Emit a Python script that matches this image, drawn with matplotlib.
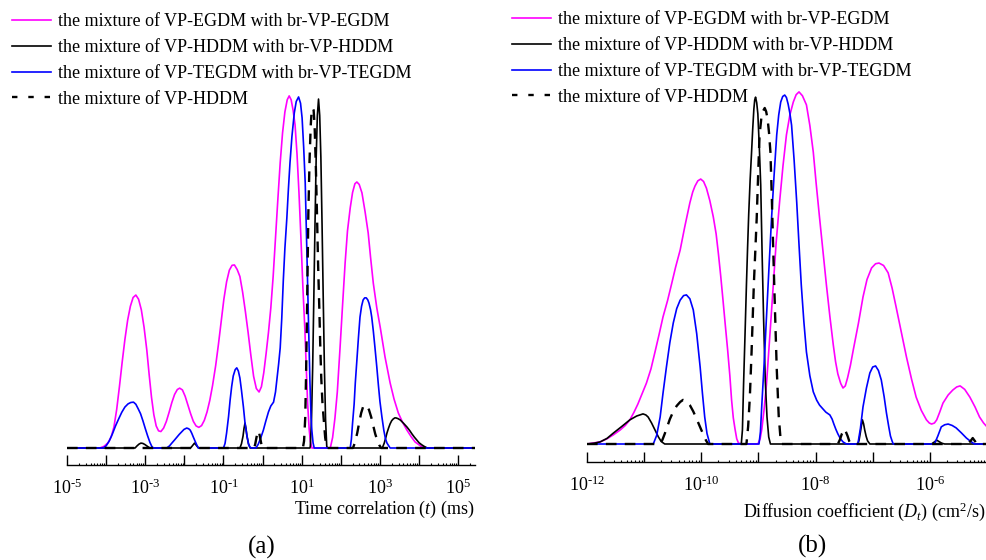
import numpy as np
import matplotlib.pyplot as plt
from matplotlib.lines import Line2D
from matplotlib.ticker import FixedLocator, FuncFormatter, NullFormatter

plt.rcParams['font.family'] = ['Liberation Serif', 'DejaVu Serif']
plt.rcParams['mathtext.fontset'] = 'custom'
plt.rcParams['mathtext.rm'] = 'Liberation Serif'
plt.rcParams['mathtext.it'] = 'Liberation Serif:italic'
plt.rcParams['mathtext.default'] = 'regular'

labels = ['the mixture of VP-EGDM with br-VP-EGDM',
          'the mixture of VP-HDDM with br-VP-HDDM',
          'the mixture of VP-TEGDM with br-VP-TEGDM',
          'the mixture of VP-HDDM']

# (a) time correlation: x as log10(t / ms), y as intensity (a.u.)
a_egdm_lx = [-5.00, -4.16, -4.05, -3.95, -3.87, -3.80, -3.73, -3.66, -3.59, -3.52, -3.45, -3.38, -3.31,
             -3.24, -3.17, -3.10, -3.03, -2.96, -2.90, -2.84, -2.78, -2.72, -2.66, -2.60, -2.53, -2.46,
             -2.39, -2.32, -2.25, -2.18, -2.12, -2.05, -1.98, -1.91, -1.84, -1.77, -1.70, -1.63, -1.56,
             -1.49, -1.42, -1.35, -1.28, -1.20, -1.13, -1.06, -0.99, -0.92, -0.85, -0.78, -0.72, -0.65,
             -0.58, -0.51, -0.44, -0.37, -0.30, -0.23, -0.16, -0.09, -0.03, 0.03, 0.09, 0.15, 0.21,
             0.27, 0.33, 0.39, 0.45, 0.51, 0.57, 0.63, 0.68, 0.73, 0.78, 0.83, 0.88, 0.93, 0.98, 1.03,
             1.08, 1.12, 1.15, 1.19, 1.22, 1.26, 1.73, 1.79, 1.85, 1.91, 1.98, 2.04, 2.11, 2.17, 2.24,
             2.30, 2.36, 2.41, 2.47, 2.54, 2.62, 2.70, 2.76, 2.83, 2.92, 3.01, 3.13, 3.26, 3.36, 3.47,
             3.58, 3.69, 3.80, 3.90, 4.05, 4.21, 5.43]
a_egdm_y = [0, 0, 0.5, 1.5, 3.2, 6.0, 11.0, 17.5, 24.5, 31.0, 36.5, 40.5, 43.0,
            43.7, 42.5, 39.5, 34.5, 28.0, 21.0, 14.5, 9.5, 6.3, 4.9, 4.7, 5.7, 7.6,
            10.2, 13.0, 15.3, 16.7, 17.1, 16.6, 14.8, 12.3, 9.8, 7.6, 6.3, 5.9, 6.4,
            7.9, 10.3, 13.6, 17.8, 23.5, 29.5, 36.0, 42.5, 47.5, 50.8, 52.2, 52.3, 51.0,
            49.0, 44.5, 39.0, 33.0, 26.5, 20.5, 17.0, 16.0, 17.5, 21.5, 27.0, 33.0, 40.0,
            49.0, 60.0, 71.0, 81.5, 90.0, 96.0, 99.5, 100.6, 99.5, 96.5, 92.3, 84.0, 73.0, 60.0, 46.0,
            34.0, 22.0, 13.0, 5.5, 2.0, 0, 0, 3.0, 8.6, 16.0, 28.6, 40.0, 52.9, 62.0, 68.6,
            73.0, 75.5, 76.0, 75.3, 72.9, 67.5, 61.4, 54.5, 47.1, 40.0, 34.3, 26.0, 18.6, 14.0, 10.0,
            7.3, 5.1, 3.2, 1.7, 0.5, 0, 0]

a_hddm_lx = [-5.00, -3.26, -3.21, -3.16, -3.11, -3.06, -3.01, -2.96, -2.91, -2.88, -1.84, -1.79, -1.74,
             -1.69, -1.64, -0.58, -0.54, -0.50, -0.475, -0.45, -0.425, -0.40, -0.36, -0.32, 1.21, 1.22,
             1.25, 1.28, 1.31, 1.34, 1.37, 1.40, 1.43, 1.46, 1.49, 1.52, 1.55, 1.58, 1.61, 1.64, 1.66,
             3.06, 3.11, 3.15, 3.18, 3.22, 3.26, 3.30, 3.34, 3.38, 3.41, 3.46, 3.52, 3.60, 3.69, 3.76,
             3.82, 3.88, 3.94, 4.00, 4.07, 4.14, 4.21, 5.43]
a_hddm_y = [0, 0, 0.6, 1.1, 1.4, 1.3, 1.0, 0.6, 0.2, 0, 0, 0.7, 1.4,
            0.7, 0, 0, 1.2, 3.4, 5.6, 7.1, 5.6, 3.4, 1.2, 0, 0, 0.5,
            8.0, 23.0, 43.0, 64.0, 83.0, 95.0, 99.7, 95.0, 83.0, 64.0, 43.0, 23.0, 8.0, 0.5, 0,
            0, 1.4, 3.0, 4.3, 5.7, 6.9, 7.8, 8.3, 8.6, 8.6, 8.4, 8.0, 7.1, 6.0, 5.0,
            4.0, 3.1, 2.3, 1.5, 0.9, 0.4, 0, 0]

a_tegdm_lx = [-5.00, -4.08, -4.00, -3.92, -3.84, -3.76, -3.68, -3.60, -3.52, -3.44, -3.37, -3.30, -3.24,
              -3.18, -3.12, -3.06, -3.00, -2.94, -2.88, -2.83, -2.79, -2.45, -2.38, -2.32, -2.25, -2.19,
              -2.13, -2.07, -2.01, -1.94, -1.89, -1.85, -1.81, -1.77, -1.72, -1.68, -1.64, -1.00, -0.96,
              -0.92, -0.87, -0.83, -0.79, -0.75, -0.70, -0.66, -0.62, -0.58, -0.54, -0.49, -0.45, -0.40,
              -0.36, -0.32, -0.28, -0.17, -0.11, -0.05, 0.02, 0.08, 0.15, 0.21, 0.28, 0.33, 0.37, 0.41,
              0.45, 0.49, 0.53, 0.57, 0.62, 0.66, 0.70, 0.75, 0.81, 0.86, 0.92, 0.97, 1.01, 1.05, 1.09,
              1.13, 1.17, 1.21, 1.24, 1.26, 1.29, 1.32, 2.24, 2.27, 2.30, 2.34, 2.37, 2.41, 2.45, 2.49,
              2.53, 2.57, 2.61, 2.65, 2.69, 2.72, 2.76, 2.79, 2.83, 2.87, 2.92, 2.96, 3.00, 3.05, 3.10,
              3.14, 3.18, 3.26, 5.43]
a_tegdm_y = [0, 0, 0.6, 2.0, 4.0, 6.3, 8.3, 10.2, 11.7, 12.6, 13.0, 13.1, 12.5,
             11.2, 9.8, 7.8, 5.6, 3.5, 1.6, 0.4, 0, 0, 0.6, 1.4, 2.3, 3.1,
             3.9, 4.6, 5.3, 5.7, 5.5, 5.1, 4.2, 3.1, 1.8, 0.8, 0, 0, 1.3,
             4.3, 9.0, 13.7, 17.6, 20.6, 22.4, 22.9, 22.0, 20.0, 16.5, 11.7, 7.2, 3.5,
             1.1, 0.2, 0, 0, 1.1, 2.8, 5.1, 7.6, 10.3, 12.0, 13.1, 16.0, 20.0, 24.0,
             28.6, 37.0, 48.0, 57.0, 65.7, 74.0, 81.4, 89.0, 95.7, 99.0, 100.3, 98.5, 94.3, 86.0, 75.7,
             57.0, 37.7, 19.0, 8.5, 4.9, 1.5, 0, 0, 2.5, 7.1, 12.5, 18.6, 25.0, 31.5, 37.4,
             40.5, 42.3, 42.9, 42.9, 42.3, 41.4, 39.5, 37.4, 33.5, 29.0, 23.1, 18.0, 13.3, 8.9, 5.0,
             2.7, 1.4, 0, 0]

a_hddm_only_lx = [-5.00, -0.22, -0.19, -0.16, -0.135, -0.11, -0.085, -0.06, -0.03, 0.00, 1.03, 1.06,
                  1.09, 1.11, 1.13, 1.15, 1.17, 1.20, 1.23, 1.255, 1.28, 1.305, 1.33, 1.36, 1.39, 1.42,
                  1.45, 1.475, 1.50, 1.53, 1.56, 1.60, 1.64, 2.31, 2.36, 2.42, 2.47, 2.52, 2.57, 2.62,
                  2.67, 2.72, 2.78, 2.83, 2.88, 2.93, 2.98, 3.03, 5.43]
a_hddm_only_y = [0, 0, 1.0, 2.8, 4.2, 4.9, 4.2, 2.8, 1.0, 0, 0, 2.0,
                 8.6, 20.0, 34.3, 51.0, 67.1, 82.0, 92.0, 96.5, 97.1, 96.5, 92.0, 81.0, 67.1, 52.0,
                 40.0, 29.0, 20.0, 13.0, 8.6, 3.0, 0, 0, 1.5, 4.3, 7.3, 10.0, 11.8, 12.3,
                 11.9, 10.9, 8.7, 6.3, 4.0, 2.3, 0.9, 0, 0]

# (b) diffusion coefficient: x as log10(D / cm2 s-1)
b_egdm_lx = [-12.00, -11.77, -11.65, -11.54, -11.42, -11.33, -11.25, -11.18, -11.11, -11.04, -10.96,
             -10.88, -10.81, -10.74, -10.67, -10.59, -10.52, -10.45, -10.37, -10.29, -10.20, -10.15,
             -10.11, -10.06, -10.01, -9.96, -9.91, -9.85, -9.79, -9.74, -9.70, -9.66, -9.62, -9.58,
             -9.54, -9.50, -9.47, -9.44, -9.41, -9.38, -9.35, -9.30, -9.01, -8.97, -8.94, -8.90, -8.86,
             -8.80, -8.74, -8.69, -8.63, -8.57, -8.51, -8.45, -8.39, -8.34, -8.29, -8.23, -8.16, -8.10,
             -8.04, -7.99, -7.93, -7.87, -7.81, -7.75, -7.69, -7.65, -7.61, -7.56, -7.52, -7.48, -7.44,
             -7.39, -7.34, -7.25, -7.17, -7.10, -7.02, -6.95, -6.89, -6.81, -6.73, -6.66, -6.59, -6.50,
             -6.41, -6.32, -6.24, -6.15, -6.06, -6.01, -5.97, -5.92, -5.88, -5.83, -5.77, -5.68, -5.60,
             -5.53, -5.47, -5.39, -5.30, -5.21, -5.13, -5.06, -5.00]
b_egdm_y = [0, 0.6, 1.5, 2.6, 4.0, 5.3, 6.9, 9.0, 11.4, 14.2, 17.4,
            21.5, 26.3, 31.2, 36.3, 41.0, 45.7, 50.5, 55.4, 62.0, 68.9, 72.0,
            73.7, 75.2, 75.7, 75.0, 73.1, 69.5, 64.9, 60.0, 54.3, 48.0, 41.1, 34.0,
            27.1, 19.5, 12.6, 7.5, 4.3, 1.5, 0.3, 0, 0, 1.5, 4.3, 10.0, 16.9,
            31.0, 45.4, 57.5, 69.1, 79.5, 88.3, 94.0, 97.7, 99.8, 100.6, 99.5, 96.9, 91.0,
            83.4, 74.5, 64.6, 55.0, 45.4, 36.5, 28.3, 23.5, 20.0, 17.3, 16.0, 16.6, 18.9,
            22.5, 26.9, 34.5, 42.0, 47.0, 50.3, 51.5, 51.7, 51.0, 48.9, 44.5, 39.1, 32.0,
            24.9, 18.5, 13.4, 9.6, 6.9, 6.0, 5.7, 6.0, 6.9, 9.0, 11.7, 14.0, 15.4,
            16.3, 16.6, 15.6, 13.4, 10.6, 7.7, 6.0, 4.9]

b_hddm_lx = [-12.00, -11.88, -11.77, -11.65, -11.54, -11.40, -11.25, -11.13, -11.02, -10.97, -10.93,
             -10.87, -10.81, -10.75, -10.70, -10.64, -9.30, -9.28, -9.26, -9.235, -9.21, -9.19, -9.17,
             -9.145, -9.12, -9.10, -9.08, -9.065, -9.05, -9.03, -9.01, -8.985, -8.96, -8.935, -8.91,
             -8.88, -8.85, -8.82, -8.79, -7.26, -7.24, -7.22, -7.20, -7.18, -7.16, -7.14, -7.115, -7.09,
             -7.05, -5.97, -5.92, -5.88, -5.83, -5.79, -5.74, -5.00]
b_hddm_y = [0, 0.2, 0.6, 1.6, 3.1, 4.9, 6.9, 8.0, 8.6, 8.3, 7.7,
            6.0, 4.0, 2.0, 0.7, 0, 0, 4.0, 17.1, 31.0, 45.4, 56.0, 65.7,
            75.5, 83.4, 90.0, 95.7, 98.3, 99.1, 97.5, 94.3, 85.0, 74.0, 54.0, 36.0,
            18.0, 7.7, 2.0, 0, 0, 1.0, 2.9, 5.0, 6.9, 5.8, 4.0, 2.2, 0.9,
            0, 0, 0.6, 1.1, 0.6, 0.2, 0, 0]

b_tegdm_lx = [-12.00, -10.84, -10.78, -10.72, -10.67, -10.61, -10.55, -10.49, -10.43, -10.37, -10.31,
              -10.26, -10.20, -10.14, -10.08, -10.02, -9.98, -9.94, -9.90, -9.85, -8.99, -8.965, -8.94,
              -8.90, -8.86, -8.815, -8.77, -8.725, -8.68, -8.645, -8.61, -8.575, -8.54, -8.51, -8.48,
              -8.45, -8.42, -8.375, -8.33, -8.29, -8.25, -8.205, -8.16, -8.10, -8.04, -7.98, -7.93, -7.87,
              -7.82, -7.75, -7.71, -7.68, -7.645, -7.61, -7.565, -7.52, -7.46, -7.26, -7.215, -7.17,
              -7.11, -7.05, -7.00, -6.95, -6.90, -6.85, -6.80, -6.76, -6.72, -6.69, -6.66, -6.64, -5.92,
              -5.86, -5.80, -5.74, -5.68, -5.61, -5.54, -5.45, -5.36, -5.29, -5.22, -5.00]
b_tegdm_y = [0, 0, 2.5, 7.7, 14.5, 22.0, 29.0, 34.6, 38.7, 41.1, 42.4,
             42.6, 41.5, 38.3, 31.5, 22.0, 14.5, 7.7, 3.0, 0, 0, 3.5, 11.4,
             23.0, 36.0, 50.5, 64.6, 77.0, 88.3, 94.0, 97.7, 99.3, 99.7, 99.0, 97.1,
             94.5, 91.1, 81.0, 69.1, 57.0, 45.4, 35.0, 26.3, 19.5, 14.9, 12.5, 11.1, 10.0,
             9.1, 8.3, 7.1, 5.7, 4.2, 2.9, 1.5, 0.6, 0, 0, 4.5, 10.6,
             16.0, 20.3, 22.0, 22.3, 21.0, 18.3, 13.5, 8.9, 5.0, 2.3, 0.8, 0, 0,
             2.3, 4.9, 5.5, 5.7, 5.3, 4.6, 3.2, 1.7, 0.8, 0, 0]

b_hddm_only_lx = [-12.00, -10.72, -10.68, -10.64, -10.55, -10.49, -10.43, -10.37, -10.32, -10.26,
                  -10.20, -10.14, -10.08, -10.02, -9.97, -9.92, -9.88, -9.21, -9.18, -9.15, -9.12, -9.10,
                  -9.08, -9.055, -9.03, -9.005, -8.98, -8.95, -8.92, -8.89, -8.865, -8.84, -8.815, -8.79,
                  -8.765, -8.74, -8.71, -8.68, -8.645, -8.61, -8.59, -7.61, -7.575, -7.54, -7.49, -7.44,
                  -7.41, -7.38, -5.34, -5.29, -5.25, -5.21, -5.18, -5.00]
b_hddm_only_y = [0, 0, 1.2, 2.9, 7.1, 9.3, 10.9, 12.0, 12.6, 12.2,
                 11.1, 9.3, 7.1, 4.8, 2.9, 1.1, 0, 0, 5.0, 13.5, 26.3, 36.0,
                 45.7, 55.0, 64.6, 77.0, 88.3, 93.0, 95.1, 96.0, 95.0, 92.9, 89.0, 83.4,
                 70.0, 54.9, 38.0, 21.7, 8.0, 0.9, 0, 0, 1.2, 2.9, 4.3, 2.3,
                 0.8, 0, 0, 0.8, 1.7, 0.8, 0, 0]

W, H = 987, 560
fig = plt.figure(figsize=(W / 100, H / 100), dpi=100)

# axes boxes in pixels: spine at 465 / 462, top at 90 / 88
ax_a = fig.add_axes([67 / W, (H - 465) / H, 408 / W, 375 / H])
ax_b = fig.add_axes([587 / W, (H - 462) / H, 400 / W, 374 / H])

colors = ['#ff00ff', 'black', '#0000ff', 'black']
styles = ['-', '-', '-', (0, (4.5, 3.5))]
widths = [1.2, 1.2, 1.2, 1.7]


def draw(ax, series):
    for (lx, y), c, ls, lw in zip(series, colors, styles, widths):
        ax.plot(10.0 ** np.array(lx), y, color=c, linestyle=ls, lw=lw)


draw(ax_a, [(a_egdm_lx, a_egdm_y), (a_hddm_lx, a_hddm_y),
            (a_tegdm_lx, a_tegdm_y), (a_hddm_only_lx, a_hddm_only_y)])
draw(ax_b, [(b_egdm_lx, b_egdm_y), (b_hddm_lx, b_hddm_y),
            (b_tegdm_lx, b_tegdm_y), (b_hddm_only_lx, b_hddm_only_y)])


def exp_label(v, shown):
    e = int(round(np.log10(v)))
    if e not in shown:
        return ''
    return '$10^{%s}$' % str(e).replace('-', '\u2010')


def style(ax, lo, hi, ylo, yhi, shown):
    ax.set_xscale('log')
    ax.set_xlim(10.0 ** lo, 10.0 ** hi)
    ax.set_ylim(ylo, yhi)
    for s in ['left', 'top', 'right']:
        ax.spines[s].set_visible(False)
    ax.spines['bottom'].set_linewidth(1.0)
    ax.set_yticks([])
    exps = list(range(int(np.ceil(lo)), int(np.floor(hi)) + 1))
    ax.xaxis.set_major_locator(FixedLocator([10.0 ** e for e in exps]))
    ax.xaxis.set_major_formatter(FuncFormatter(lambda v, p: exp_label(v, shown)))
    minors = [m * 10.0 ** e for e in range(int(np.floor(lo)), int(np.ceil(hi))) for m in range(2, 10)]
    ax.xaxis.set_minor_locator(FixedLocator(minors))
    ax.xaxis.set_minor_formatter(NullFormatter())
    ax.tick_params(axis='x', which='major', direction='in', length=7, width=1.0,
                   labelsize=13, pad=10)
    ax.tick_params(axis='x', which='minor', direction='in', length=1.2, width=0.8)


style(ax_a, -5, 5.43, -17 / 3.5, 358 / 3.5, [-5, -3, -1, 1, 3, 5])
style(ax_b, -12, -5, -18 / 3.5, 356 / 3.5, [-12, -10, -8, -6])

handles = [Line2D([], [], color=c, lw=lw) for c, lw in zip(colors[:3], widths[:3])]
handles.append(Line2D([], [], color='black', lw=1.7, linestyle=(0, (2.3, 4.6))))

for ax, x0, y0 in [(ax_a, 12, 13.5), (ax_b, 512, 11.5)]:
    ax.legend(handles, labels, loc='upper left', bbox_to_anchor=(x0 / W, 1 - y0 / H),
              bbox_transform=fig.transFigure, frameon=False, fontsize=13,
              handlelength=2.15, handletextpad=0.38, labelspacing=0.48,
              borderpad=0, borderaxespad=0)

fig.text(475 / W, 1 - 509 / H, 'Time correlation ($\\mathit{t}$) (ms)',
         ha='right', va='center', fontsize=13)
fig.text(986 / W, 1 - 512 / H, 'Diffusion coefficient ($\\mathit{D}_\\mathit{t}$) (cm$^2$/s)',
         ha='right', va='center', fontsize=13)
fig.text(262 / W, 1 - 547 / H, '(a)', ha='center', va='center', fontsize=18)
fig.text(813 / W, 1 - 546 / H, '(b)', ha='center', va='center', fontsize=18)

fig.savefig('out.png', dpi=100)
